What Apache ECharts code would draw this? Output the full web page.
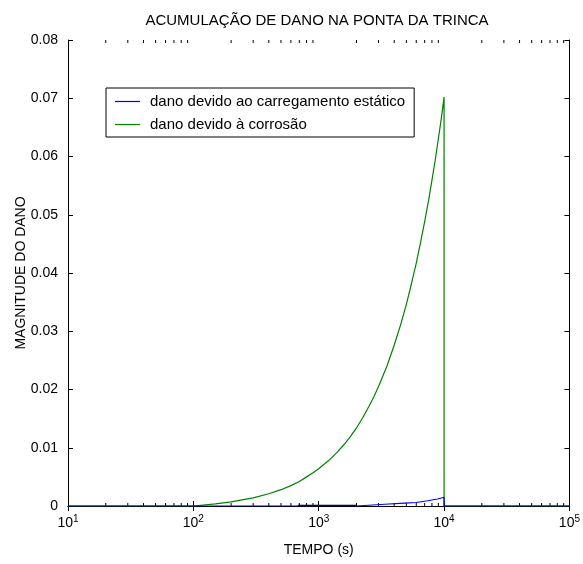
<!DOCTYPE html>
<html><head><meta charset="utf-8">
<script src="https://cdn.jsdelivr.net/npm/echarts@6/dist/echarts.min.js"></script>
<style>html,body{margin:0;padding:0;background:#fff}#c{width:583px;height:564px}</style>
</head><body><div id="c"></div>
<script>
// Data
const titleText = 'ACUMULAÇÃO DE DANO NA PONTA DA TRINCA';
const seriesNames = ['dano devido ao carregamento estático', 'dano devido à corrosão'];
const timeGreen = [10, 100, 150, 200, 250, 300, 400, 500, 600, 700, 800, 900, 1000, 1200, 1400, 1600, 1800, 2000, 2250, 2500, 2750, 3000, 3500, 4000, 4500, 5000, 5500, 6000, 6500, 7000, 7500, 8000, 8500, 9000, 9500, 10000, 10000, 100000];
const dmgGreen  = [0, 0, 0.00035, 0.0007, 0.0011, 0.0014, 0.0021, 0.0028, 0.0035, 0.0042, 0.0050, 0.0057, 0.0064, 0.0078, 0.0092, 0.0106, 0.0120, 0.0134, 0.0152, 0.0170, 0.0187, 0.0205, 0.0240, 0.0276, 0.0311, 0.0346, 0.0382, 0.0417, 0.0453, 0.0488, 0.0523, 0.0559, 0.0594, 0.0630, 0.0665, 0.0702, 0, 0];
const timeBlue = [10, 2000, 2000, 3360, 3360, 4840, 4840, 6000, 6000, 7400, 7400, 8870, 10000, 10000, 100000];
const dmgBlue  = [0, 0, 0.0003, 0.0003, 0.0005, 0.0005, 0.0006, 0.0006, 0.0009, 0.0009, 0.0012, 0.0012, 0.0015, 0, 0];
const timeBlack = [680, 2000];
const dmgBlack  = [0.00005, 0.00005];
const minorTickVals = [20,30,40,50,60,70,80,90,200,300,400,500,600,700,800,900,2000,3000,4000,5000,6000,7000,8000,9000,20000,30000,40000,50000,60000,70000,80000,90000];

const FONT = 'Liberation Sans, Arial, sans-serif';
const zip = (a, b) => a.map((v, i) => [v, b[i]]);
const chart = echarts.init(document.getElementById('c'), null, {renderer: 'canvas'});
const axisCommonX = {
  type: 'log', logBase: 10, min: 10, max: 100000,
  axisLine: {show: true, lineStyle: {color: '#000', width: 1}},
  axisTick: {show: true, inside: true, length: 5, lineStyle: {color: '#000'}},
  splitLine: {show: false}, minorTick: {show: false}
};
const axisCommonY = {
  type: 'value', min: 0, max: 0.08, interval: 0.01,
  axisLine: {show: true, lineStyle: {color: '#000', width: 1}},
  axisTick: {show: true, inside: true, length: 5, lineStyle: {color: '#000'}},
  splitLine: {show: false}
};
chart.setOption({
  animation: false,
  backgroundColor: '#fff',
  title: {text: titleText, left: 312, top: 8, textAlign: 'center',
    textStyle: {fontFamily: FONT, fontSize: 15, fontWeight: 'normal', color: '#000'}},
  grid: {left: 68, right: 13, top: 40, bottom: 58, show: false},
  legend: {
    data: seriesNames, orient: 'vertical', left: 106, top: 88,
    borderColor: '#000', borderWidth: 1, padding: [6, 9, 5, 9],
    icon: 'rect', itemWidth: 25, itemHeight: 1.2, itemGap: 8, backgroundColor: '#fff',
    textStyle: {fontFamily: FONT, fontSize: 15, color: '#000', padding: [0, 0, 0, 5]}
  },
  xAxis: [
    Object.assign({}, axisCommonX, {
      position: 'bottom', name: 'TEMPO (s)', nameLocation: 'middle', nameGap: 37,
      nameTextStyle: {fontFamily: FONT, fontSize: 14, color: '#000'},
      axisLabel: {margin: 8, color: '#000',
        formatter: v => '{b|10}{s|' + Math.round(Math.log10(v)) + '}',
        rich: {b: {fontFamily: FONT, fontSize: 14, color: '#000'},
               s: {fontFamily: FONT, fontSize: 10, color: '#000', padding: [0, 0, 9, 0]}}}
    }),
    Object.assign({}, axisCommonX, {position: 'top', axisLabel: {show: false}})
  ],
  yAxis: [
    Object.assign({}, axisCommonY, {
      position: 'left', name: 'MAGNITUDE DO DANO', nameLocation: 'middle', nameGap: 40,
      nameMoveOverlap: false,
      nameTextStyle: {fontFamily: FONT, fontSize: 14, color: '#000'},
      axisLabel: {margin: 10, color: '#000', fontFamily: FONT, fontSize: 14,
        formatter: v => v === 0 ? '0' : v.toFixed(2)}
    }),
    Object.assign({}, axisCommonY, {position: 'right', axisLabel: {show: false}})
  ],
  series: [
    {name: 'minor', type: 'custom', xAxisIndex: 0, yAxisIndex: 0, silent: true, clip: false,
      data: minorTickVals.map(v => [v, 0]), encode: {x: 0, y: 1},
      renderItem: (params, api) => {
        const x = api.value(0);
        const pb = api.coord([x, 0]);
        const pt = api.coord([x, 0.08]);
        return {type: 'group', children: [
          {type: 'line', shape: {x1: pb[0], y1: pb[1], x2: pb[0], y2: pb[1] - 3}, style: {stroke: '#000', lineWidth: 1}},
          {type: 'line', shape: {x1: pt[0], y1: pt[1], x2: pt[0], y2: pt[1] + 3}, style: {stroke: '#000', lineWidth: 1}}
        ]};
      }},
    {name: seriesNames[1], type: 'line', data: zip(timeGreen, dmgGreen), symbol: 'none',
      lineStyle: {color: '#008000', width: 1.2}, itemStyle: {color: '#008000'}, z: 3},
    {name: 'black', type: 'line', data: zip(timeBlack, dmgBlack), symbol: 'none',
      lineStyle: {color: '#000', width: 2}, itemStyle: {color: '#000'}, z: 4},
    {name: seriesNames[0], type: 'line', data: zip(timeBlue, dmgBlue), symbol: 'none',
      lineStyle: {color: '#0000ff', width: 1.2}, itemStyle: {color: '#0000ff'}, z: 5}
  ]
});
</script></body></html>
